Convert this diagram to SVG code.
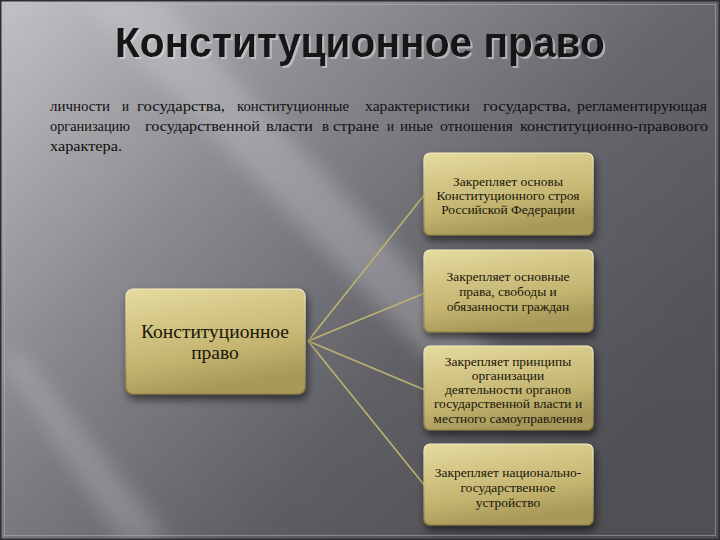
<svg xmlns="http://www.w3.org/2000/svg" width="720" height="540" viewBox="0 0 720 540">
<defs>
<linearGradient id="bg" x1="0" y1="0" x2="1" y2="0.6">
<stop offset="0" stop-color="#c2c2c6"/>
<stop offset="0.35" stop-color="#909096"/>
<stop offset="0.7" stop-color="#67676e"/>
<stop offset="1" stop-color="#57575d"/>
</linearGradient>
<linearGradient id="vshade" x1="0" y1="0" x2="0" y2="1">
<stop offset="0" stop-color="#000" stop-opacity="0"/>
<stop offset="1" stop-color="#000" stop-opacity="0.1"/>
</linearGradient>
<linearGradient id="gold" x1="0" y1="0" x2="0.3" y2="1">
<stop offset="0" stop-color="#e6dca0"/>
<stop offset="0.3" stop-color="#d6c98a"/>
<stop offset="0.7" stop-color="#c3b470"/>
<stop offset="1" stop-color="#a8985a"/>
</linearGradient>
<linearGradient id="goldedge" x1="0" y1="0" x2="0" y2="1">
<stop offset="0" stop-color="#f4ecc0"/>
<stop offset="1" stop-color="#8c7c40"/>
</linearGradient>
<filter id="shadow" x="-20%" y="-20%" width="140%" height="150%">
<feGaussianBlur in="SourceAlpha" stdDeviation="4"/>
<feOffset dx="2" dy="5" result="b"/>
<feComponentTransfer><feFuncA type="linear" slope="0.55"/></feComponentTransfer>
<feMerge><feMergeNode/><feMergeNode in="SourceGraphic"/></feMerge>
</filter>
<filter id="tshadow" x="-5%" y="-20%" width="110%" height="150%">
<feOffset in="SourceAlpha" dx="2" dy="2" result="o"/>
<feFlood flood-color="#d8d8dc" flood-opacity="0.6"/>
<feComposite in2="o" operator="in"/>
<feMerge><feMergeNode/><feMergeNode in="SourceGraphic"/></feMerge>
</filter>
<filter id="blur8"><feGaussianBlur stdDeviation="10"/></filter>
</defs>
<style>
.box{fill:url(#gold);stroke:url(#goldedge);stroke-width:1.2;filter:url(#shadow)}
.bt{font-family:"Liberation Serif","Times New Roman",serif;font-size:13.5px;fill:#1a1608;text-anchor:middle}
.conn{stroke:#bdb271;stroke-width:1.6;fill:none}
.para{font-family:"Liberation Serif","Times New Roman",serif;font-size:14.5px;fill:#111}
</style>
<rect width="720" height="540" fill="url(#bg)"/>
<rect width="720" height="540" fill="url(#vshade)"/>
<g filter="url(#blur8)" opacity="0.3">
<polygon points="80,0 160,0 520,380 470,400" fill="#d8d8dc"/>
<polygon points="0,360 20,350 170,540 120,540" fill="#c8c8cc"/>
</g>
<rect x="0.5" y="0.5" width="719" height="539" fill="none" stroke="#2e2e33" stroke-width="2"/>
<rect x="4.5" y="4.5" width="711" height="531" fill="none" stroke="#b8b8bc" stroke-opacity="0.5" stroke-width="1"/>
<text x="360" y="57" font-family="'Liberation Sans',Arial,sans-serif" font-weight="bold" font-size="42" text-anchor="middle" fill="#141414" textLength="490" lengthAdjust="spacingAndGlyphs" filter="url(#tshadow)">Конституционное право</text>
<g class="para">
<text x="50" y="111" textLength="60" lengthAdjust="spacingAndGlyphs">личности</text>
<text x="122" y="111" textLength="7" lengthAdjust="spacingAndGlyphs">и</text>
<text x="137" y="111" textLength="88" lengthAdjust="spacingAndGlyphs">государства,</text>
<text x="237" y="111" textLength="112" lengthAdjust="spacingAndGlyphs">конституционные</text>
<text x="365" y="111" textLength="105" lengthAdjust="spacingAndGlyphs">характеристики</text>
<text x="483" y="111" textLength="88" lengthAdjust="spacingAndGlyphs">государства,</text>
<text x="577" y="111" textLength="130" lengthAdjust="spacingAndGlyphs">регламентирующая</text>
<text x="50" y="131" textLength="80" lengthAdjust="spacingAndGlyphs">организацию</text>
<text x="145" y="131" textLength="115" lengthAdjust="spacingAndGlyphs">государственной</text>
<text x="266" y="131" textLength="47" lengthAdjust="spacingAndGlyphs">власти</text>
<text x="322" y="131" textLength="7" lengthAdjust="spacingAndGlyphs">в</text>
<text x="333" y="131" textLength="46" lengthAdjust="spacingAndGlyphs">стране</text>
<text x="387" y="131" textLength="7" lengthAdjust="spacingAndGlyphs">и</text>
<text x="400" y="131" textLength="33" lengthAdjust="spacingAndGlyphs">иные</text>
<text x="440" y="131" textLength="73" lengthAdjust="spacingAndGlyphs">отношения</text>
<text x="520" y="131" textLength="188" lengthAdjust="spacingAndGlyphs">конституционно-правового</text>
<text x="50" y="151" textLength="72" lengthAdjust="spacingAndGlyphs">характера.</text>
</g>
<g id="connectors">
<line class="conn" x1="308" y1="341" x2="425" y2="194"/>
<line class="conn" x1="308" y1="341" x2="425" y2="293"/>
<line class="conn" x1="308" y1="341" x2="425" y2="390"/>
<line class="conn" x1="308" y1="341" x2="425" y2="486"/>
</g>
<g id="main">
<rect class="box" x="126" y="289" width="179" height="105" rx="7"/>
<text x="215" y="338" font-family="'Liberation Serif','Times New Roman',serif" font-size="19.5" fill="#1a1608" text-anchor="middle">Конституционное</text>
<text x="215" y="359" font-family="'Liberation Serif','Times New Roman',serif" font-size="19.5" fill="#1a1608" text-anchor="middle">право</text>
</g>
<g id="n1">
<rect class="box" x="424" y="153" width="169" height="82" rx="6"/>
<text class="bt" x="508" y="186">Закрепляет основы</text>
<text class="bt" x="508" y="200">Конституционного строя</text>
<text class="bt" x="508" y="214">Российской Федерации</text>
</g>
<g id="n2">
<rect class="box" x="424" y="250" width="169" height="82" rx="6"/>
<text class="bt" x="508" y="281">Закрепляет основные</text>
<text class="bt" x="508" y="296">права, свободы и</text>
<text class="bt" x="508" y="311">обязанности граждан</text>
</g>
<g id="n3">
<rect class="box" x="424" y="346" width="169" height="84" rx="6"/>
<text class="bt" x="508" y="366">Закрепляет принципы</text>
<text class="bt" x="508" y="380">организации</text>
<text class="bt" x="508" y="394">деятельности органов</text>
<text class="bt" x="508" y="408">государственной власти и</text>
<text class="bt" x="508" y="423">местного самоуправления</text>
</g>
<g id="n4">
<rect class="box" x="424" y="444" width="169" height="81" rx="6"/>
<text class="bt" x="508" y="477">Закрепляет национально-</text>
<text class="bt" x="508" y="492">государственное</text>
<text class="bt" x="508" y="507">устройство</text>
</g>
</svg>
